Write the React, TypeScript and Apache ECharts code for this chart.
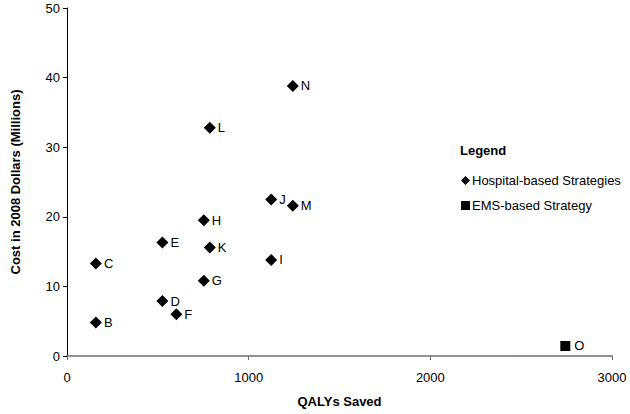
import React, { useEffect, useRef } from "react";
import * as echarts from "echarts";

const hospitalNames = ["B", "C", "D", "E", "F", "G", "H", "I", "J", "K", "L", "M", "N"];
const hospitalQalys = [159, 159, 525, 525, 602, 753, 753, 1124, 1124, 786, 786, 1243, 1243];
const hospitalCosts = [4.8, 13.3, 7.9, 16.3, 6.0, 10.8, 19.5, 13.8, 22.5, 15.6, 32.8, 21.6, 38.8];

const emsNames = ["O"];
const emsQalys = [2743];
const emsCosts = [1.44];

const xTicks = [0, 1000, 2000, 3000];
const yTicks = [0, 10, 20, 30, 40, 50];

const FONT = "'Liberation Sans', Arial, sans-serif";

export default function App() {
  const ref = useRef<HTMLDivElement>(null);
  useEffect(() => {
    if (!ref.current) return;
    const chart = echarts.init(ref.current, null, { renderer: "svg" });
    const hospitalData = hospitalNames.map((n, i) => ({ name: n, value: [hospitalQalys[i], hospitalCosts[i]] }));
    const emsData = emsNames.map((n, i) => ({ name: n, value: [emsQalys[i], emsCosts[i]] }));
    const label = {
      show: true,
      position: "right",
      distance: 2,
      formatter: (p: any) => p.name,
      color: "#000",
      fontSize: 13,
      fontFamily: FONT,
    };
    chart.setOption({
      animation: false,
      backgroundColor: "#fff",
      textStyle: { fontFamily: FONT },
      grid: { left: 67, right: 18, top: 8, bottom: 58, containLabel: false, outerBoundsMode: "none" },
      graphic: [
        {
          type: "text",
          left: 460,
          top: 144,
          style: { text: "Legend", fontSize: 13, fontWeight: "bold", fontFamily: FONT, fill: "#000" },
        },
      ],
      legend: {
        orient: "vertical",
        left: 456,
        top: 169,
        itemWidth: 9,
        itemHeight: 9,
        itemGap: 12,
        textStyle: { fontSize: 13, color: "#000", fontFamily: FONT, padding: [0, 0, 0, -3] },
        data: [
          { name: "Hospital-based Strategies", icon: "diamond" },
          { name: "EMS-based Strategy", icon: "rect" },
        ],
      },
      xAxis: {
        type: "value",
        min: xTicks[0],
        max: xTicks[xTicks.length - 1],
        interval: 1000,
        name: "QALYs Saved",
        nameLocation: "middle",
        nameGap: 39,
        nameTextStyle: { fontSize: 13, fontWeight: "bold", color: "#000", fontFamily: FONT },
        axisLine: { show: true, lineStyle: { color: "#6e6e6e", width: 1.5 } },
        axisTick: { show: true, length: 4, lineStyle: { color: "#6e6e6e" } },
        axisLabel: { fontSize: 13, color: "#000", margin: 15, fontFamily: FONT, formatter: (v: number) => String(v) },
        splitLine: { show: false },
      },
      yAxis: {
        type: "value",
        min: yTicks[0],
        max: yTicks[yTicks.length - 1],
        interval: 10,
        name: "Cost in 2008 Dollars (Millions)",
        nameLocation: "middle",
        nameGap: 45,
        nameTextStyle: { fontSize: 13, fontWeight: "bold", color: "#000", fontFamily: FONT },
        axisLine: { show: true, lineStyle: { color: "#000", width: 1 } },
        axisTick: { show: true, length: 4, lineStyle: { color: "#000" } },
        axisLabel: { fontSize: 13, color: "#000", margin: 7, fontFamily: FONT, formatter: (v: number) => String(v) },
        splitLine: { show: false },
      },
      series: [
        {
          name: "Hospital-based Strategies",
          type: "scatter",
          symbol: "diamond",
          symbolSize: 12,
          itemStyle: { color: "#000", opacity: 1 },
          label,
          data: hospitalData,
        },
        {
          name: "EMS-based Strategy",
          type: "scatter",
          symbol: "rect",
          symbolSize: 10,
          itemStyle: { color: "#000", opacity: 1 },
          label: { ...label, distance: 4 },
          data: emsData,
        },
      ],
    });
    return () => chart.dispose();
  }, []);
  return <div ref={ref} style={{ position: "absolute", left: 0, top: 0, width: 630, height: 414 }} />;
}
